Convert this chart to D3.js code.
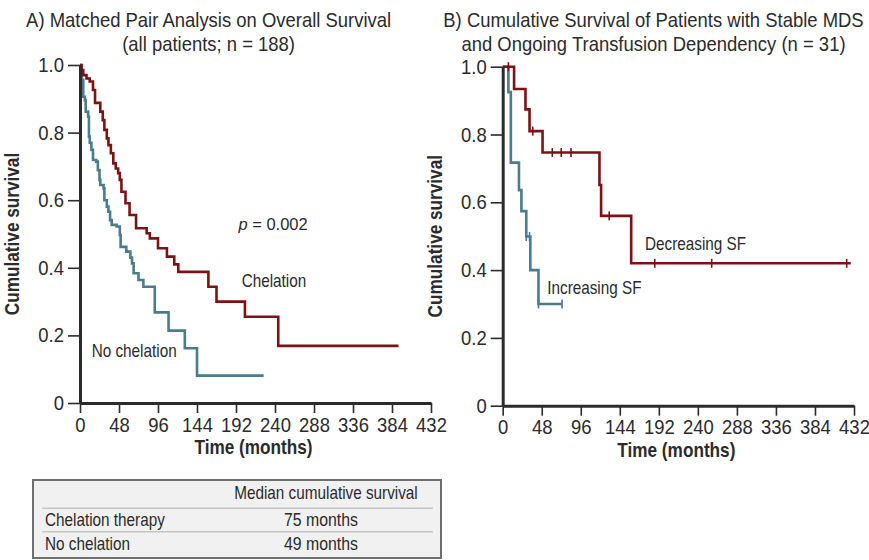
<!DOCTYPE html>
<html>
<head>
<meta charset="utf-8">
<script src="https://cdn.jsdelivr.net/npm/d3@7"></script>
<style>
  body { margin: 0; background: #fff; }
  svg { font-family: "Liberation Sans", Arial, sans-serif; }
</style>
</head>
<body>
<script>
// tick values shared by both panels
const xTicks = [0, 48, 96, 144, 192, 240, 288, 336, 384, 432];
const yTicks = [0, 0.2, 0.4, 0.6, 0.8, 1.0];

// A) matched pair analysis, chelation
const chelTime = [0, 2, 4, 8, 12, 16, 18.5, 25, 28, 30, 33, 35, 38, 41, 44, 47, 49, 51, 56, 61, 69, 82, 86, 96, 107, 116, 121, 158, 168, 203, 244, 392];
const chelSurv = [1.0, 0.985, 0.97, 0.96, 0.951, 0.926, 0.888, 0.862, 0.837, 0.808, 0.783, 0.763, 0.739, 0.709, 0.694, 0.68, 0.66, 0.625, 0.591, 0.556, 0.517, 0.502, 0.487, 0.458, 0.433, 0.41, 0.388, 0.344, 0.3, 0.255, 0.169, 0.169];

// A) no chelation
const noChelTime = [0, 1, 2, 4, 6, 7, 10, 11, 12, 14, 16, 20, 22, 24, 25, 29, 30, 33, 35, 37, 39, 45, 49, 50, 57, 62, 64, 66, 72, 78, 92, 109, 129, 144, 226];
const noChelSurv = [1.0, 0.97, 0.956, 0.906, 0.896, 0.862, 0.847, 0.788, 0.77, 0.749, 0.719, 0.714, 0.689, 0.66, 0.645, 0.635, 0.6, 0.581, 0.566, 0.541, 0.527, 0.522, 0.497, 0.462, 0.448, 0.43, 0.413, 0.384, 0.364, 0.344, 0.268, 0.214, 0.162, 0.081, 0.081];

// B) stable MDS, decreasing serum ferritin
const decTime = [0, 14, 28, 33, 49, 119, 121, 158, 428];
const decSurv = [1.0, 0.934, 0.874, 0.81, 0.747, 0.651, 0.56, 0.42, 0.42];
const decCensor = [7, 37, 61, 72, 84, 131, 187, 257, 423];

// B) increasing serum ferritin
const incTime = [0, 7, 10, 20, 23, 29, 34, 44, 73];
const incSurv = [1.0, 0.925, 0.717, 0.636, 0.574, 0.499, 0.4, 0.3, 0.3];
const incCensor = [29, 33, 44, 73];

// table under panel A
const tableHeader = "Median cumulative survival";
const tableGroups = ["Chelation therapy", "No chelation"];
const tableMedians = ["75 months", "49 months"];

const red = "#7b1315";
const blue = "#4a7b8e";
const ink = "#2b2b2b";

const svg = d3.select("body").append("svg")
    .attr("width", 869)
    .attr("height", 560);

// squeeze text horizontally to mimic the condensed face of the original
function squeeze(sel, k) {
    sel.each(function () {
        const t = d3.select(this);
        const x = +t.attr("x") || 0;
        t.attr("x", x / k)
            .attr("transform", (t.attr("transform") || "") + ` scale(${k},1)`);
    });
    return sel;
}

// survival value of a step curve at time t
function survAt(times, survs, t) {
    let s = survs[0];
    for (let i = 0; i < times.length; i++) {
        if (times[i] <= t) s = survs[i];
    }
    return s;
}

function drawPanel(cfg) {
    const g = svg.append("g")
        .attr("transform", `translate(${cfg.left},${cfg.top})`);

    const x = d3.scaleLinear().domain([0, 432]).range([0, cfg.width]);
    const y = d3.scaleLinear().domain([0, 1]).range([cfg.height, 0]);

    // titles
    cfg.title.forEach((t, i) => {
        svg.append("text")
            .attr("x", cfg.titleX)
            .attr("y", 27 + i * 24)
            .attr("text-anchor", "middle")
            .attr("font-size", 20.5)
            .attr("fill", ink)
            .text(t)
            .call(squeeze, 0.9);
    });

    // curves
    cfg.series.forEach(s => {
        const pts = s.time.map((t, i) => [t, s.surv[i]]);
        g.append("path")
            .datum(pts)
            .attr("fill", "none")
            .attr("stroke", s.color)
            .attr("stroke-width", 2.6)
            .attr("d", d3.line()
                .x(d => x(d[0]))
                .y(d => y(d[1]))
                .curve(d3.curveStepAfter));

        if (s.censor) {
            g.selectAll(null)
                .data(s.censor)
                .enter()
                .append("line")
                .attr("x1", d => x(d))
                .attr("x2", d => x(d))
                .attr("y1", d => y(survAt(s.time, s.surv, d)) - 4.5)
                .attr("y2", d => y(survAt(s.time, s.surv, d)) + 4.5)
                .attr("stroke", s.color)
                .attr("stroke-width", 1.6);
        }
    });

    // axes
    const xAxis = g.append("g")
        .attr("transform", `translate(0,${cfg.height})`)
        .call(d3.axisBottom(x).tickValues(xTicks).tickSize(10).tickSizeOuter(0).tickPadding(4));
    const yAxis = g.append("g")
        .call(d3.axisLeft(y).tickValues(yTicks).tickSize(12).tickSizeOuter(0).tickPadding(4)
            .tickFormat(d => d === 0 ? "0" : d3.format(".1f")(d)));

    [xAxis, yAxis].forEach(a => {
        a.select(".domain").attr("stroke", ink).attr("stroke-width", 3);
        a.selectAll(".tick line").attr("stroke", ink).attr("stroke-width", 1.6);
        a.selectAll(".tick text")
            .attr("fill", ink)
            .attr("font-size", 20.5)
            .attr("font-family", "Liberation Sans, Arial, sans-serif")
            .call(squeeze, 0.9);
    });

    // axis titles
    g.append("text")
        .attr("x", cfg.width / 2 - 2)
        .attr("y", cfg.height + 51)
        .attr("text-anchor", "middle")
        .attr("font-size", 20)
        .attr("font-weight", "bold")
        .attr("fill", ink)
        .text("Time (months)")
        .call(squeeze, 0.86);
    g.append("text")
        .attr("transform", `translate(${cfg.yLabelX},${cfg.height / 2}) rotate(-90)`)
        .attr("text-anchor", "middle")
        .attr("font-size", 20)
        .attr("font-weight", "bold")
        .attr("fill", ink)
        .text("Cumulative survival")
        .call(squeeze, 0.86);

    // curve labels
    cfg.labels.forEach(l => {
        const txt = g.append("text")
            .attr("x", x(l.t))
            .attr("y", y(l.s))
            .attr("font-size", l.size)
            .attr("fill", ink);
        if (l.italic) {
            txt.append("tspan").attr("font-style", "italic").text(l.italic);
        }
        txt.append("tspan").text(l.text);
        txt.call(squeeze, l.k);
    });
}

drawPanel({
    left: 80, top: 65, width: 351, height: 338,
    titleX: 208.6, yLabelX: -61,
    title: ["A) Matched Pair Analysis on Overall Survival", "(all patients; n = 188)"],
    series: [
        { time: noChelTime, surv: noChelSurv, color: blue },
        { time: chelTime, surv: chelSurv, color: red }
    ],
    labels: [
        { t: 195, s: 0.512, size: 16.5, k: 1, italic: "p", text: " = 0.002" },
        { t: 199, s: 0.344, size: 18, k: 0.85, text: "Chelation" },
        { t: 14.4, s: 0.137, size: 18, k: 0.85, text: "No chelation" }
    ]
});

drawPanel({
    left: 502.7, top: 66.7, width: 351.3, height: 339,
    titleX: 653.5, yLabelX: -61,
    title: ["B) Cumulative Survival of Patients with Stable MDS", "and Ongoing Transfusion Dependency (n = 31)"],
    series: [
        { time: incTime, surv: incSurv, censor: incCensor, color: blue },
        { time: decTime, surv: decSurv, censor: decCensor, color: red }
    ],
    labels: [
        { t: 175, s: 0.459, size: 18, k: 0.85, text: "Decreasing SF" },
        { t: 54.8, s: 0.33, size: 18, k: 0.85, text: "Increasing SF" }
    ]
});

// median survival table
const table = svg.append("g");
table.append("rect")
    .attr("x", 33).attr("y", 480)
    .attr("width", 408).attr("height", 78)
    .attr("fill", "#f1f1f1")
    .attr("stroke", "#6f6f6f")
    .attr("stroke-width", 2);
table.append("text")
    .attr("x", 326).attr("y", 499.5)
    .attr("text-anchor", "middle")
    .attr("font-size", 18)
    .attr("fill", ink)
    .text(tableHeader)
    .call(squeeze, 0.85);
[508.3, 531.7].forEach(yy => {
    table.append("line")
        .attr("x1", 42).attr("x2", 433)
        .attr("y1", yy).attr("y2", yy)
        .attr("stroke", "#c4c4c4")
        .attr("stroke-width", 1.5);
});
tableGroups.forEach((name, i) => {
    table.append("text")
        .attr("x", 45).attr("y", 526 + i * 24)
        .attr("font-size", 18)
        .attr("fill", ink)
        .text(name)
        .call(squeeze, 0.85);
    table.append("text")
        .attr("x", 321).attr("y", 526 + i * 24)
        .attr("text-anchor", "middle")
        .attr("font-size", 18)
        .attr("fill", ink)
        .text(tableMedians[i])
        .call(squeeze, 0.88);
});
</script>
</body>
</html>
